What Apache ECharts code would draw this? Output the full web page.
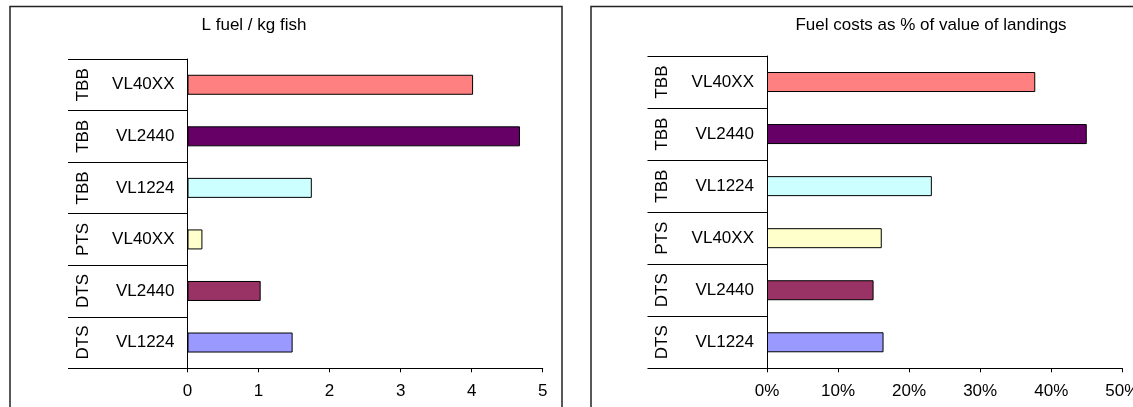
<!DOCTYPE html>
<html>
<head>
<meta charset="utf-8">
<script src="https://cdn.jsdelivr.net/npm/echarts@6/dist/echarts.min.js"></script>
<style>
  html, body { margin: 0; padding: 0; background: #fff; }
  #chart { width: 1133px; height: 407px; }
</style>
</head>
<body>
<div id="chart"></div>
<script>
// Fleet segments, listed bottom to top
const gears = ['DTS', 'DTS', 'PTS', 'TBB', 'TBB', 'TBB'];
const lengths = ['VL1224', 'VL2440', 'VL40XX', 'VL1224', 'VL2440', 'VL40XX'];

// Litres of fuel per kg of fish landed
const fuelPerKg = [1.48, 1.03, 0.21, 1.75, 4.68, 4.02];
// Fuel costs as a percentage of the value of landings
const fuelCostPct = [16.4, 15.0, 16.15, 23.2, 45.0, 37.75];

// Value axis ranges
const fuelAxis = { min: 0, max: 5, step: 1 };
const costAxis = { min: 0, max: 50, step: 10 };

const titles = ['L fuel / kg fish', 'Fuel costs as % of value of landings'];
const barColors = ['#9999FF', '#993366', '#FFFFCC', '#CCFFFF', '#660066', '#FF8080'];

const FONT = "'Liberation Sans', Arial, sans-serif";
const FS = 17;
const keys = gears.map((g, i) => g + '|' + lengths[i]);

const grids = [
  { left: 187.5, top: 59, width: 355.2, height: 309.3 },
  { left: 767, top: 56, width: 355.3, height: 312.3 }
];

const xAxes = [fuelAxis, costAxis].map((ax, g) => ({
  type: 'value', gridIndex: g, min: ax.min, max: ax.max, interval: ax.step,
  axisLine: { show: true, lineStyle: { color: '#000', width: 1 } },
  axisTick: { show: true, length: 4, lineStyle: { color: '#000' } },
  splitLine: { show: false },
  axisLabel: {
    margin: 15, fontSize: FS, color: '#000', fontFamily: FONT,
    formatter: g === 1 ? '{value}%' : '{value}'
  }
}));

const yAxes = [];
[0, 1].forEach(g => {
  // segment length labels with band separators reaching across the label area
  yAxes.push({
    type: 'category', gridIndex: g, data: keys, position: 'left',
    axisLine: { show: true, lineStyle: { color: '#000', width: 1 } },
    axisTick: { show: true, length: 119.5, lineStyle: { color: '#000' } },
    splitLine: { show: false },
    axisLabel: {
      margin: 13, fontSize: FS, color: '#000', fontFamily: FONT, interval: 0,
      formatter: k => k.split('|')[1]
    }
  });
  // gear type labels, written vertically
  yAxes.push({
    type: 'category', gridIndex: g, data: keys, position: 'left', offset: 0,
    axisLine: { show: false }, axisTick: { show: false }, splitLine: { show: false },
    axisLabel: {
      rotate: 90, margin: 96, fontSize: FS, color: '#000', fontFamily: FONT, interval: 0,
      formatter: k => k.split('|')[0]
    }
  });
});

const series = [fuelPerKg, fuelCostPct].map((vals, g) => ({
  type: 'bar', xAxisIndex: g, yAxisIndex: g * 2, data: vals, barWidth: 20,
  itemStyle: {
    color: p => barColors[p.dataIndex],
    borderColor: '#000', borderWidth: 1
  },
  emphasis: { disabled: true }
}));

const chart = echarts.init(document.getElementById('chart'), null, { renderer: 'canvas' });
chart.setOption({
  animation: false,
  backgroundColor: '#fff',
  grid: grids.map(gr => Object.assign({ outerBoundsMode: 'none', containLabel: false }, gr)),
  xAxis: xAxes,
  yAxis: yAxes,
  series: series,
  graphic: [
    { type: 'rect', shape: { x: 10, y: 6.5, width: 552, height: 440 },
      style: { fill: 'none', stroke: '#222', lineWidth: 1.5 }, silent: true, z: 0 },
    { type: 'rect', shape: { x: 591, y: 6.5, width: 600, height: 440 },
      style: { fill: 'none', stroke: '#222', lineWidth: 1.5 }, silent: true, z: 0 },
    { type: 'text', x: 254, y: 25, silent: true,
      style: { text: titles[0], fill: '#000', font: FS + 'px ' + FONT, textAlign: 'center', textVerticalAlign: 'middle' } },
    { type: 'text', x: 931, y: 25, silent: true,
      style: { text: titles[1], fill: '#000', font: FS + 'px ' + FONT, textAlign: 'center', textVerticalAlign: 'middle' } }
  ]
});
</script>
</body>
</html>
